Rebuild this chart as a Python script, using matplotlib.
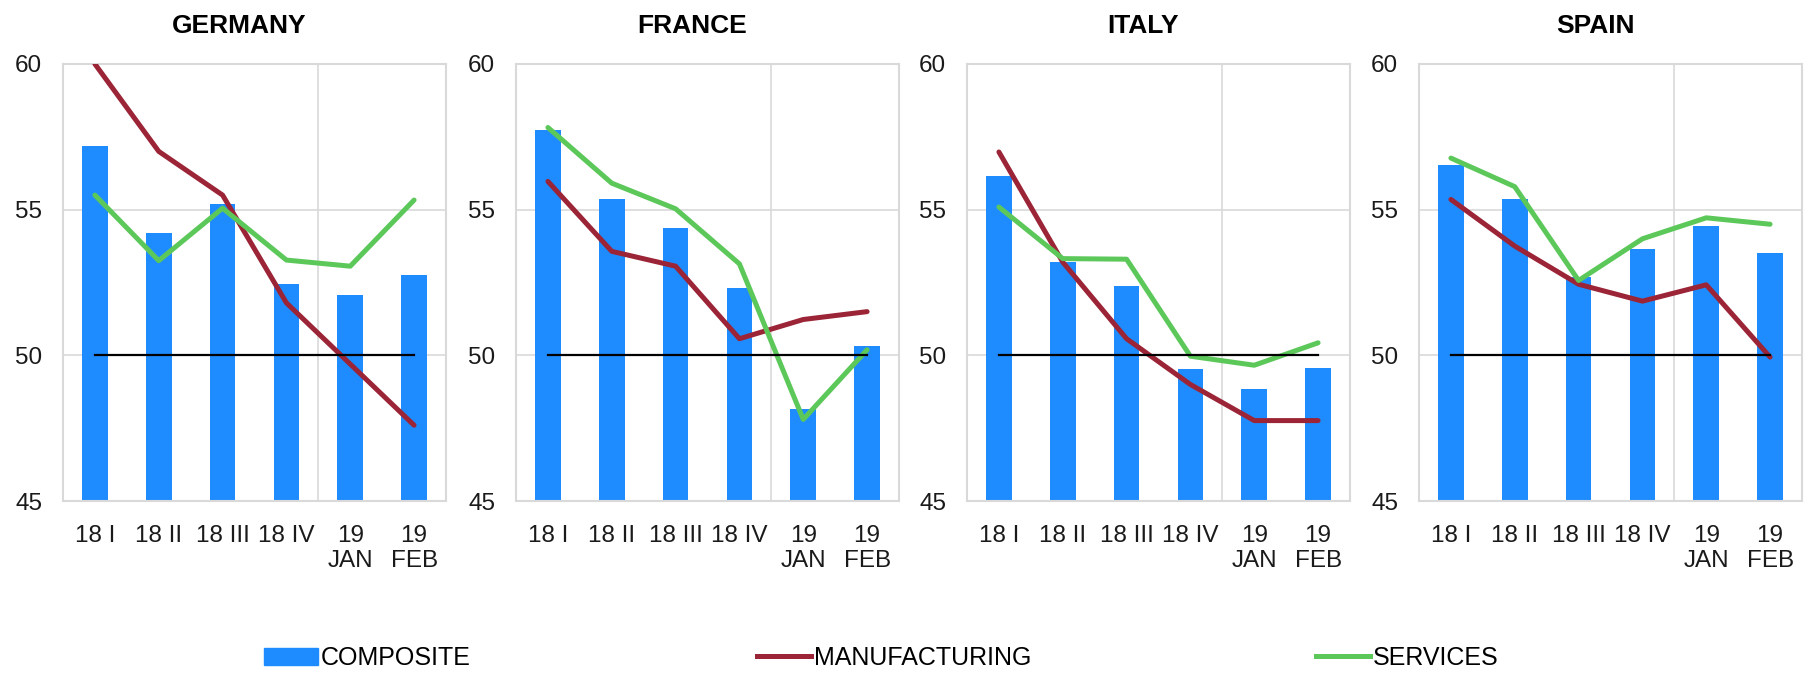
import matplotlib
matplotlib.use("Agg")
import matplotlib.pyplot as plt
from matplotlib.patches import Patch
from matplotlib.lines import Line2D

# ---------------------------
# Data (PMI readings)
# ---------------------------

periods = ["18 I", "18 II", "18 III", "18 IV", "19\nJAN", "19\nFEB"]
countries = ["GERMANY", "FRANCE", "ITALY", "SPAIN"]

composite_de = [57.2, 54.2, 55.2, 52.45, 52.08, 52.75]
manufacturing_de = [60.0, 57.0, 55.5, 51.8, 49.7, 47.6]
services_de = [55.5, 53.25, 55.05, 53.27, 53.06, 55.33]

composite_fr = [57.74, 55.38, 54.38, 52.31, 48.17, 50.33]
manufacturing_fr = [55.97, 53.57, 53.06, 50.57, 51.23, 51.5]
services_fr = [57.82, 55.91, 55.03, 53.14, 47.8, 50.19]

composite_it = [56.16, 53.21, 52.39, 49.52, 48.83, 49.56]
manufacturing_it = [56.98, 53.2, 50.57, 49.0, 47.76, 47.76]
services_it = [55.09, 53.32, 53.3, 49.97, 49.66, 50.43]

composite_es = [56.52, 55.35, 52.68, 53.65, 54.44, 53.5]
manufacturing_es = [55.35, 53.75, 52.44, 51.86, 52.42, 49.94]
services_es = [56.77, 55.79, 52.57, 54.0, 54.72, 54.5]

composite = [composite_de, composite_fr, composite_it, composite_es]
manufacturing = [manufacturing_de, manufacturing_fr, manufacturing_it, manufacturing_es]
services = [services_de, services_fr, services_it, services_es]

threshold = 50

# ---------------------------
# Style
# ---------------------------

BLUE = "#1E8CFF"
RED = "#9B2436"
GREEN = "#5CC85A"
GRID = "#D9D9D9"

plt.rcParams["font.family"] = ["Liberation Sans", "DejaVu Sans"]

fig = plt.figure(figsize=(18.09, 6.76), dpi=100)

lefts = [63, 516, 967, 1419]
ax_w = 383
ax_top = 64
ax_bottom = 501
W, H = 1809, 676

x = list(range(len(periods)))

for i, name in enumerate(countries):
    ax = fig.add_axes([lefts[i] / W, 1 - ax_bottom / H, ax_w / W, (ax_bottom - ax_top) / H])

    ax.bar(x, [v - 45 for v in composite[i]], bottom=45, width=0.4, color=BLUE, zorder=2)
    ax.plot(x, manufacturing[i], color=RED, lw=3.6, zorder=3, solid_capstyle="round")
    ax.plot(x, services[i], color=GREEN, lw=3.6, zorder=4, solid_capstyle="round")
    ax.plot([x[0], x[-1]], [threshold, threshold], color="black", lw=1.6, zorder=5)

    ax.set_xlim(-0.5, 5.5)
    ax.set_ylim(45, 60)
    ax.set_yticks([45, 50, 55, 60])
    ax.set_xticks(x)
    ax.set_xticklabels(periods)

    ax.yaxis.grid(True, color=GRID, lw=1.2, zorder=0)
    ax.axvline(3.5, color=GRID, lw=1.2, zorder=0)
    ax.set_axisbelow(True)

    for s in ax.spines.values():
        s.set_color(GRID)
        s.set_linewidth(1.5)

    ax.tick_params(axis="y", length=0, pad=15, labelsize=17.5, colors="#1a1a1a")
    ax.tick_params(axis="x", length=0, pad=17, labelsize=17.5, colors="#1a1a1a")

    ax.set_title(name, fontsize=19, fontweight="bold", pad=22, x=0.46)

# ---------------------------
# Legend
# ---------------------------

legend_items = [
    (Patch(color=BLUE), "COMPOSITE", 264),
    (Line2D([], [], color=RED, lw=3.6), "MANUFACTURING", 757),
    (Line2D([], [], color=GREEN, lw=3.6), "SERVICES", 1316),
]

for handle, label, px in legend_items:
    fig.legend([handle], [label], loc="center left",
               bbox_to_anchor=(px / W, 1 - 658 / H),
               frameon=False, fontsize=18, handlelength=2.15,
               handletextpad=0.12, borderpad=0, borderaxespad=0)

fig.savefig("out.png", dpi=100)
